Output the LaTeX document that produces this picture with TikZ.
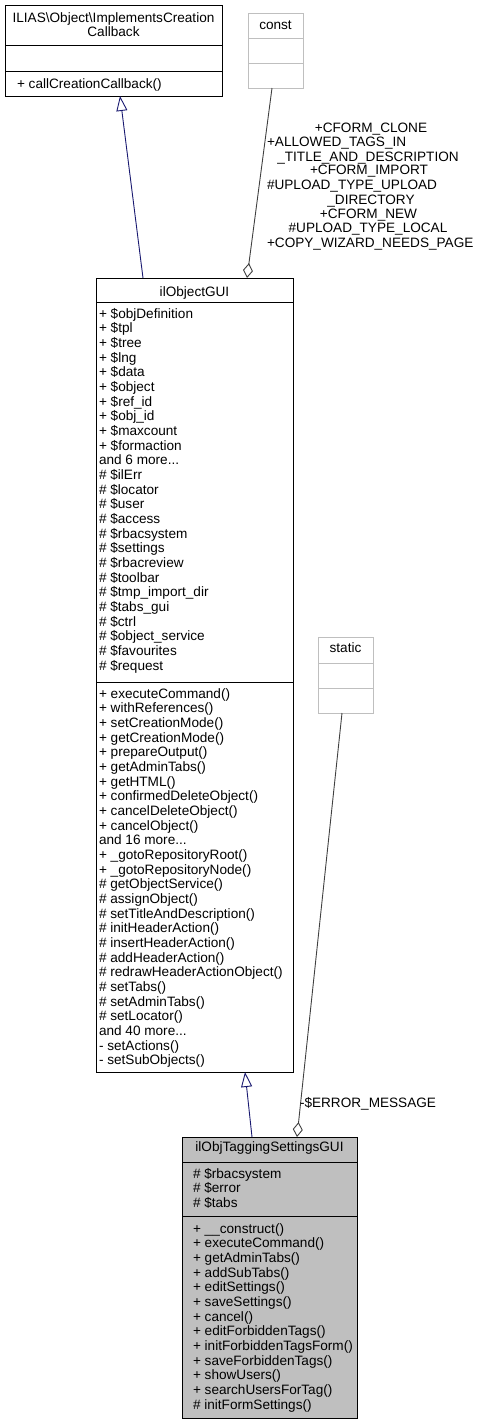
\documentclass[tikz,border=0pt]{standalone}
\usepackage{fontspec}
\setmainfont{Liberation Sans}
\usetikzlibrary{arrows.meta}
\definecolor{inh}{HTML}{191970}
\definecolor{agg}{HTML}{404040}
\definecolor{lgray}{HTML}{BFBFBF}
\newcommand{\mytdots}{...}
\begin{document}
\begin{tikzpicture}[x=1pt,y=-1pt,
  every node/.style={font=\fontsize{13.6}{14.67}\selectfont, inner sep=0pt, outer sep=0pt},
  classbox/.style={draw=black, line width=1pt, anchor=north west},
  membox/.style={draw=lgray, line width=1pt, anchor=north west},
  sepline/.style={draw=black, line width=1pt},
  lsepline/.style={draw=lgray, line width=1pt},
  lt/.style={anchor=base west},
  ct/.style={anchor=base},
  inhline/.style={draw=inh, line width=0.9pt, -{Triangle[open,length=15pt,width=11pt]}},
  aggline/.style={draw=agg, line width=0.9pt, -{Diamond[open,length=15pt,width=10pt]}}]
\useasboundingbox (0,0) rectangle (477,1424);

% ---------- ILIAS\Object\ImplementsCreationCallback ----------
\node[classbox, minimum width=217pt, minimum height=91pt] (ilias) at (5,5) {};
\draw[sepline] (ilias.west |- 0,45) -- (ilias.east |- 0,45);
\draw[sepline] (ilias.west |- 0,71) -- (ilias.east |- 0,71);
\node[ct] (iliast1) at (113.5,22.7) {ILIAS\textbackslash Object\textbackslash ImplementsCreation};
\node[ct] (iliast2) at (113.5,36.7) {Callback};
\node[lt] (iliasm1) at (17,88.7) {+ callCreationCallback()};

% ---------- const ----------
\node[membox, minimum width=55pt, minimum height=75pt] (const) at (248,13) {};
\draw[lsepline] (const.west |- 0,38) -- (const.east |- 0,38);
\draw[lsepline] (const.west |- 0,63) -- (const.east |- 0,63);
\node[ct] (constt) at (275.5,29.7) {const};

% ---------- static ----------
\node[membox, minimum width=55pt, minimum height=76pt] (static) at (318,637) {};
\draw[lsepline] (static.west |- 0,663) -- (static.east |- 0,663);
\draw[lsepline] (static.west |- 0,688) -- (static.east |- 0,688);
\node[ct] (statict) at (345.5,652.7) {static};

% ---------- ilObjectGUI ----------
\node[classbox, minimum width=197pt, minimum height=794pt] (obj) at (96,278) {};
\draw[sepline] (obj.west |- 0,302) -- (obj.east |- 0,302);
\draw[sepline] (obj.west |- 0,682) -- (obj.east |- 0,682);
\node[ct] (objt) at (194.5,296.4) {ilObjectGUI};
\foreach \t [count=\i from 0] in {+ \$objDefinition, + \$tpl, + \$tree, + \$lng, + \$data, + \$object, + \$ref\_id, + \$obj\_id, + \$maxcount, + \$formaction, and 6 more\mytdots, \# \$ilErr, \# \$locator, \# \$user, \# \$access, \# \$rbacsystem, \# \$settings, \# \$rbacreview, \# \$toolbar, \# \$tmp\_import\_dir, \# \$tabs\_gui, \# \$ctrl, \# \$object\_service, \# \$favourites, \# \$request}
  \node[lt] (obja\i) at (99,318+\i*14.67) {\t};
\foreach \t [count=\i from 0] in {+ executeCommand(), + withReferences(), + setCreationMode(), + getCreationMode(), + prepareOutput(), + getAdminTabs(), + getHTML(), + confirmedDeleteObject(), + cancelDeleteObject(), + cancelObject(), and 16 more\mytdots, + \_gotoRepositoryRoot(), + \_gotoRepositoryNode(), \# getObjectService(), \# assignObject(), \# setTitleAndDescription(), \# initHeaderAction(), \# insertHeaderAction(), \# addHeaderAction(), \# redrawHeaderActionObject(), \# setTabs(), \# setAdminTabs(), \# setLocator(), and 40 more\mytdots, - setActions(), - setSubObjects()}
  \node[lt] (objm\i) at (99,698+\i*14.67) {\t};

% ---------- ilObjTaggingSettingsGUI ----------
\node[classbox, fill=lgray, minimum width=175pt, minimum height=281pt] (child) at (182,1137) {};
\draw[sepline] (child.west |- 0,1162) -- (child.east |- 0,1162);
\draw[sepline] (child.west |- 0,1216) -- (child.east |- 0,1216);
\node[ct] (childt) at (269.5,1151.7) {ilObjTaggingSettingsGUI};
\foreach \t [count=\i from 0] in {\# \$rbacsystem, \# \$error, \# \$tabs}
  \node[lt] (childa\i) at (193,1178+\i*14.67) {\t};
\foreach \t [count=\i from 0] in {+ \_\_construct(), + executeCommand(), + getAdminTabs(), + addSubTabs(), + editSettings(), + saveSettings(), + cancel(), + editForbiddenTags(), + initForbiddenTagsForm(), + saveForbiddenTags(), + showUsers(), + searchUsersForTag(), \# initFormSettings()}
  \node[lt] (childm\i) at (193,1233+\i*14.67) {\t};

% ---------- connectors ----------
\draw[inhline] ([xshift=47pt]obj.north west) -- ([xshift=115pt]ilias.south west);
\draw[inhline] ([xshift=70pt]child.north west) -- ([xshift=149pt]obj.south west);
\draw[aggline] ([xshift=24pt]const.south west) -- ([xshift=151pt]obj.north west);
\draw[aggline] ([xshift=24pt]static.south west) -- ([xshift=115pt]child.north west);

% ---------- labels ----------
\node[ct] (l1) at (371,132.7) {+CFORM\_CLONE};
\node[lt] (l2) at (267,146.7) {+ALLOWED\_TAGS\_IN};
\node[ct] (l3) at (368,161.7) {\_TITLE\_AND\_DESCRIPTION};
\node[ct] (l4) at (369,174.7) {+CFORM\_IMPORT};
\node[lt] (l5) at (267,189.7) {\#UPLOAD\_TYPE\_UPLOAD};
\node[ct] (l6) at (371,204.7) {\_DIRECTORY};
\node[ct] (l7) at (368.5,218.7) {+CFORM\_NEW};
\node[ct] (l8) at (368,232.7) {\#UPLOAD\_TYPE\_LOCAL};
\node[lt] (l9) at (267,247.7) {+COPY\_WIZARD\_NEEDS\_PAGE};
\node[lt] (l10) at (300,1107.7) {-\$ERROR\_MESSAGE};
\end{tikzpicture}
\end{document}
